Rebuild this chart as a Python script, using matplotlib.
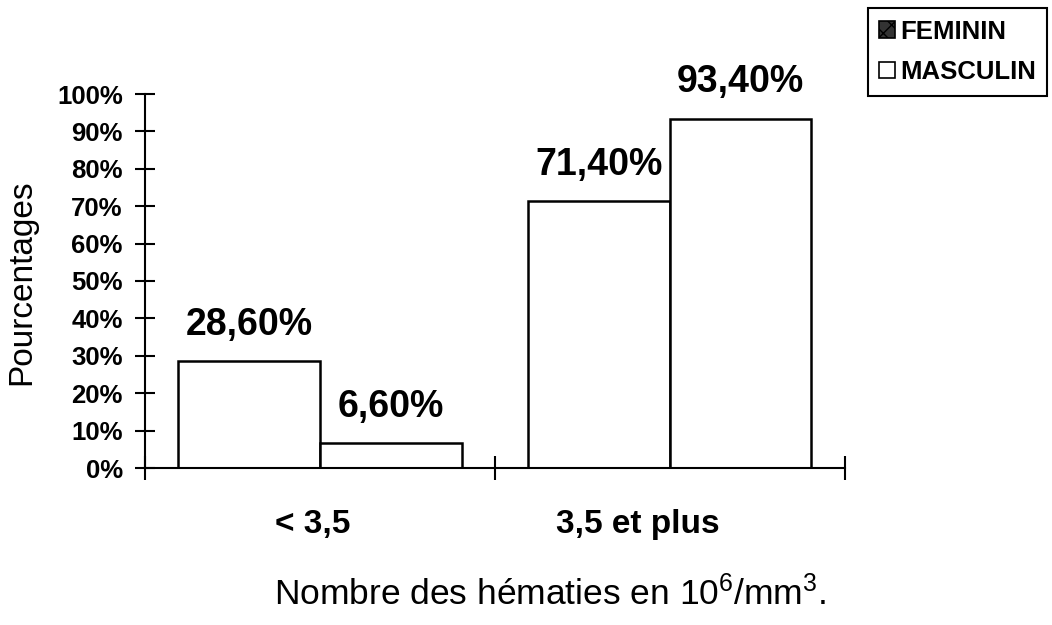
import numpy as np
import matplotlib
matplotlib.use('Agg')
import matplotlib.pyplot as plt
from matplotlib.patches import Patch

plt.rcParams['font.family'] = ['Liberation Sans', 'DejaVu Sans']
plt.rcParams['mathtext.fontset'] = 'custom'
plt.rcParams['mathtext.rm'] = 'Liberation Sans'
plt.rcParams['mathtext.default'] = 'regular'

# data
categories = ['< 3,5', '3,5 et plus']
series = ['FEMININ', 'MASCULIN']
feminin = [28.6, 71.4]
masculin = [6.6, 93.4]
value_labels = [['28,60%', '71,40%'], ['6,60%', '93,40%']]
yticks = [0, 10, 20, 30, 40, 50, 60, 70, 80, 90, 100]
ytick_labels = ['%d%%' % v for v in yticks]

fig = plt.figure(figsize=(10.52, 6.25), dpi=100)
ax = fig.add_axes([0.1378, 0.2512, 0.6650, 0.5984])

x = np.arange(len(categories))
w = 0.405
bars_f = ax.bar(x - w / 2, feminin, w, color='white', edgecolor='black', linewidth=1.8)
bars_m = ax.bar(x + w / 2, masculin, w, color='white', edgecolor='black', linewidth=1.8)

for bars, labels in zip([bars_f, bars_m], value_labels):
    for b, lab in zip(bars, labels):
        ax.annotate(lab, (b.get_x() + b.get_width() / 2, b.get_height()),
                    xytext=(0, 19), textcoords='offset points',
                    ha='center', va='baseline', fontsize=27, fontweight='bold')

ax.set_xlim(-0.5, 1.5)
ax.set_ylim(0, 100)
ax.set_yticks(yticks)
ax.set_yticklabels(ytick_labels, fontsize=18.5, fontweight='bold')
ax.set_xticks([-0.5, 0.5, 1.5])
ax.set_xticklabels([])
ax.tick_params(axis='y', direction='inout', length=14, width=1.5, pad=9)
ax.tick_params(axis='x', direction='inout', length=17, width=1.5)

for s in ['top', 'right']:
    ax.spines[s].set_visible(False)
for s in ['left', 'bottom']:
    ax.spines[s].set_linewidth(1.5)

# category labels (slightly left of centre, as in the source)
label_shift = [0.02, 0.09]
for i, c in enumerate(categories):
    ax.text(x[i] - label_shift[i], -17.5, c, ha='center', va='baseline',
            fontsize=24, fontweight='bold', transform=ax.transData, clip_on=False)

fig.text(0.021, 0.549, 'Pourcentages', rotation=90, ha='center', va='center', fontsize=24)
fig.text(0.523, 0.032, r'Nombre des hématies en 10$^6$/mm$^3$.', ha='center', va='baseline', fontsize=25.5)

handles = [Patch(facecolor='#333333', edgecolor='black', hatch='xx', linewidth=1.2),
           Patch(facecolor='white', edgecolor='black', linewidth=1.2)]
leg = fig.legend(handles, series, loc='upper left', bbox_to_anchor=(0.825, 0.987),
                 prop={'size': 18.5, 'weight': 'bold'}, fancybox=False, framealpha=1,
                 edgecolor='black', handlelength=0.6, handleheight=0.6,
                 handletextpad=0.2, labelspacing=0.65, borderpad=0.45, borderaxespad=0)
leg.get_frame().set_linewidth(1.5)

fig.savefig('out.png', dpi=100)
